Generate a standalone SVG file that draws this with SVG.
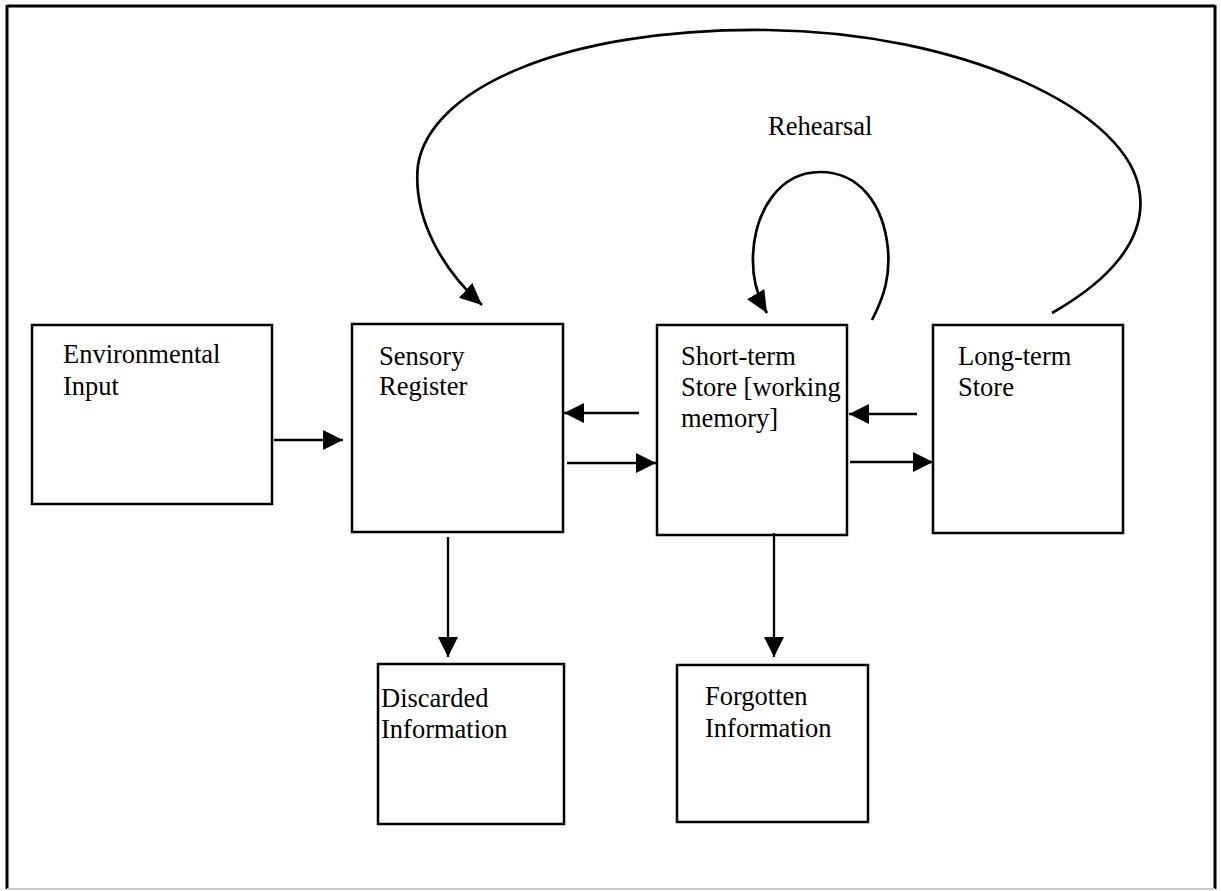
<svg xmlns="http://www.w3.org/2000/svg" width="1221" height="891" viewBox="0 0 1221 891">
<style>
.box{fill:#fff;stroke:#000;stroke-width:2.5}
.lbl{font-family:"Liberation Serif","Times New Roman",serif;font-size:26.5px;fill:#000}
.conn{fill:none;stroke:#000;stroke-width:2.3}
.curve{fill:none;stroke:#000;stroke-width:2.7}
</style>
<defs>
<marker id="ah" markerUnits="userSpaceOnUse" markerWidth="22" markerHeight="22" refX="20" refY="10" orient="auto">
<path d="M0,0 L20,10 L0,20 z" fill="#000"/>
</marker>
<marker id="ahc" markerUnits="userSpaceOnUse" markerWidth="24" markerHeight="24" refX="22" refY="10" orient="auto">
<path d="M0,0 L22,10 L0,20 z" fill="#000"/>
</marker>
</defs>
<rect width="1221" height="891" fill="#fff"/>
<g id="frame">
<line x1="7" y1="6" x2="1215" y2="6" stroke="#000" stroke-width="3"/>
<line x1="7" y1="5" x2="7" y2="889" stroke="#000" stroke-width="3"/>
<line x1="1215" y1="5" x2="1215" y2="889" stroke="#000" stroke-width="3"/>
<line x1="7" y1="889" x2="1215" y2="889" stroke="#c8c8c8" stroke-width="2"/>
</g>
<g id="env">
<rect class="box" x="32" y="325" width="240" height="179"/>
<text class="lbl" x="63" y="363">Environmental</text>
<text class="lbl" x="63" y="395">Input</text>
</g>
<g id="sensory">
<rect class="box" x="352" y="324" width="211" height="208"/>
<text class="lbl" x="379" y="365">Sensory</text>
<text class="lbl" x="379" y="395">Register</text>
</g>
<g id="short">
<rect class="box" x="657" y="325" width="190" height="210"/>
<text class="lbl" x="681" y="365">Short-term</text>
<text class="lbl" x="681" y="396">Store [working</text>
<text class="lbl" x="681" y="427">memory]</text>
</g>
<g id="long">
<rect class="box" x="933" y="325" width="190" height="208"/>
<text class="lbl" x="958" y="365">Long-term</text>
<text class="lbl" x="958" y="396">Store</text>
</g>
<g id="discarded">
<rect class="box" x="378" y="664" width="186" height="160"/>
<text class="lbl" x="381" y="707">Discarded</text>
<text class="lbl" x="381" y="738">Information</text>
</g>
<g id="forgotten">
<rect class="box" x="677" y="665" width="191" height="157"/>
<text class="lbl" x="705" y="705">Forgotten</text>
<text class="lbl" x="705" y="737">Information</text>
</g>
<g id="rehearsal-label">
<text class="lbl" x="768" y="135">Rehearsal</text>
</g>
<g id="connectors">
<line class="conn" x1="274" y1="440" x2="343" y2="440" marker-end="url(#ah)"/>
<line class="conn" x1="639" y1="413" x2="564" y2="413" marker-end="url(#ah)"/>
<line class="conn" x1="567" y1="463" x2="656" y2="463" marker-end="url(#ah)"/>
<line class="conn" x1="917" y1="414" x2="849" y2="414" marker-end="url(#ah)"/>
<line class="conn" x1="850" y1="462" x2="933" y2="462" marker-end="url(#ah)"/>
<line class="conn" x1="448" y1="537" x2="448" y2="657" marker-end="url(#ah)"/>
<line class="conn" x1="774" y1="533" x2="774" y2="657" marker-end="url(#ah)"/>
<path class="curve" d="M1052 313 C1110 280 1145 240 1140 195 C1132 110 960 32 767 30 C560 28 430 90 418 165 C412 220 445 272 482 305" marker-end="url(#ahc)"/>
<path class="curve" d="M872 320 C885 295 890 275 888 250 C884 205 860 172 820 172 C780 172 755 210 753 255 C752 280 758 298 767 313" marker-end="url(#ahc)"/>
</g>
</svg>
